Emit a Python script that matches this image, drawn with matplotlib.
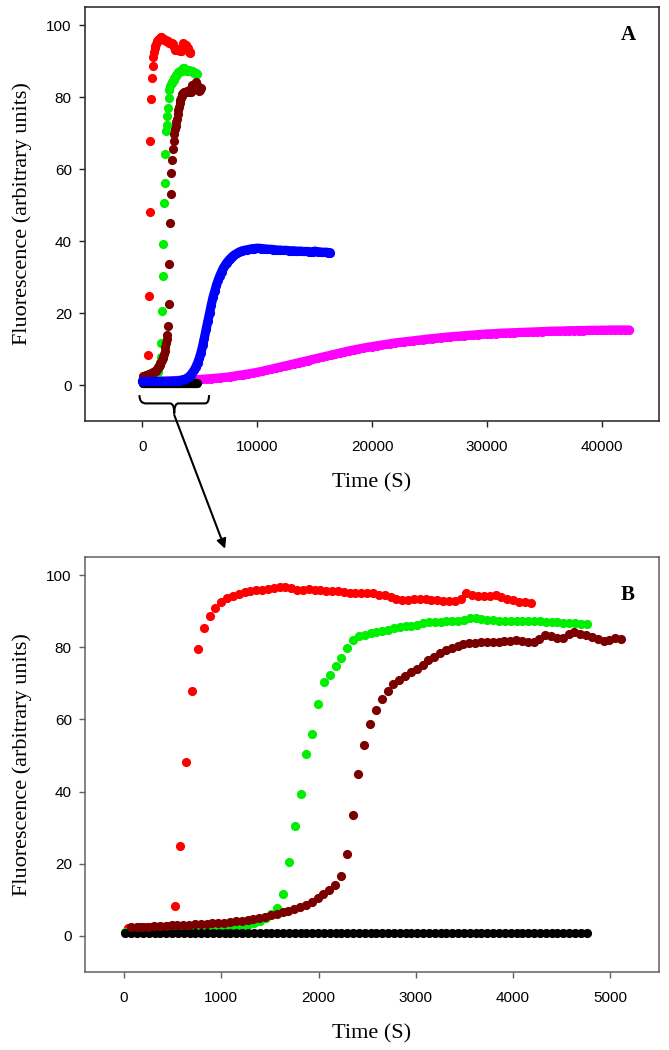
import numpy as np
import matplotlib
matplotlib.use('Agg')
import matplotlib.pyplot as plt
from matplotlib.path import Path
from matplotlib.patches import PathPatch, ConnectionPatch

# Fluorescence readings (arbitrary units), sampled at a fixed step per series
red_start, red_step = 40, 60
red_vals = [2.3, 2.3, 2.4, 2.4, 2.5, 2.5, 2.6, 2.7, 8.3, 24.8,
            48.2, 67.8, 79.5, 85.3, 88.7, 91.0, 92.6, 93.6, 94.2, 94.7,
            95.2, 95.5, 95.8, 96.0, 96.1, 96.3, 96.6, 96.8, 96.4, 96.0,
            95.9, 96.1, 95.9, 95.8, 95.6, 95.5, 95.5, 95.3, 95.1, 95.1,
            95.0, 94.9, 94.9, 94.6, 94.4, 94.0, 93.4, 93.2, 93.2, 93.3,
            93.4, 93.4, 93.2, 93.0, 92.8, 92.7, 92.9, 93.3, 94.9, 94.6,
            94.3, 94.2, 94.3, 94.4, 94.0, 93.5, 93.0, 92.6, 92.4, 92.3]

green_start, green_step = 15, 60
green_vals = [1.2, 1.2, 1.2, 1.3, 1.3, 1.3, 1.4, 1.4, 1.4, 1.5,
              1.5, 1.6, 1.6, 1.7, 1.8, 1.9, 2.0, 2.1, 2.3, 2.5,
              2.7, 3.1, 3.6, 4.2, 5.0, 6.0, 7.7, 11.6, 20.5, 30.4,
              39.2, 50.5, 56.0, 64.2, 70.5, 72.3, 74.7, 76.9, 79.7, 81.9,
              83.1, 83.5, 83.9, 84.2, 84.5, 84.8, 85.2, 85.6, 85.8, 86.0,
              86.3, 86.6, 86.9, 87.0, 87.1, 87.3, 87.3, 87.2, 87.5, 88.0,
              88.2, 87.8, 87.5, 87.5, 87.4, 87.3, 87.3, 87.4, 87.3, 87.2,
              87.3, 87.3, 87.1, 87.0, 86.9, 86.8, 86.8, 86.6, 86.5, 86.4]

maroon_start, maroon_step = 70, 60
maroon_vals = [2.4, 2.5, 2.6, 2.6, 2.7, 2.8, 2.8, 2.9, 3.0, 3.0,
               3.1, 3.2, 3.3, 3.4, 3.5, 3.6, 3.7, 3.8, 4.0, 4.2,
               4.4, 4.7, 5.0, 5.3, 5.7, 6.1, 6.5, 6.9, 7.4, 7.9,
               8.6, 9.4, 10.5, 11.6, 12.7, 14.0, 16.5, 22.6, 33.5, 45.0,
               53.0, 58.8, 62.6, 65.6, 67.9, 69.7, 71.0, 72.0, 73.0, 74.0,
               75.2, 76.4, 77.3, 78.3, 79.2, 79.8, 80.3, 80.8, 81.1, 81.3,
               81.4, 81.4, 81.5, 81.5, 81.6, 81.7, 81.9, 81.8, 81.5, 81.5,
               82.3, 83.3, 83.0, 82.5, 82.6, 83.6, 84.2, 83.8, 83.3, 82.9,
               82.3, 81.6, 82.0, 82.5, 82.4]

black_start, black_step = 15, 60
black_vals = [0.7, 0.7, 0.7, 0.7, 0.7, 0.7, 0.7, 0.7, 0.7, 0.7,
              0.7, 0.7, 0.7, 0.7, 0.7, 0.7, 0.7, 0.7, 0.7, 0.7,
              0.7, 0.7, 0.7, 0.7, 0.7, 0.7, 0.7, 0.7, 0.7, 0.7,
              0.7, 0.7, 0.7, 0.7, 0.7, 0.7, 0.7, 0.7, 0.7, 0.7,
              0.7, 0.7, 0.7, 0.7, 0.7, 0.7, 0.7, 0.7, 0.7, 0.7,
              0.7, 0.7, 0.7, 0.7, 0.7, 0.7, 0.7, 0.7, 0.7, 0.7,
              0.7, 0.7, 0.7, 0.7, 0.7, 0.7, 0.7, 0.7, 0.7, 0.7,
              0.7, 0.7, 0.7, 0.7, 0.7, 0.7, 0.7, 0.7, 0.7, 0.7]

blue_start, blue_step = 0, 150
blue_vals = [1.0, 1.0, 1.0, 1.0, 1.0, 1.0, 1.0, 1.0, 1.0, 1.0,
             1.0, 1.0, 1.0, 1.0, 1.0, 1.0, 1.0, 1.05, 1.1, 1.1,
             1.15, 1.2, 1.3, 1.4, 1.55, 1.7, 1.95, 2.3, 2.8, 3.4,
             4.1, 5.0, 6.1, 7.4, 9.0, 11.0, 13.2, 15.5, 17.8, 20.0,
             22.3, 24.4, 26.1, 27.7, 29.2, 30.4, 31.5, 32.5, 33.3, 34.0,
             34.6, 35.1, 35.6, 36.0, 36.3, 36.6, 36.9, 37.1, 37.3, 37.4,
             37.5, 37.6, 37.7, 37.8, 37.9, 37.9, 38.0, 38.0, 38.0, 37.9,
             37.9, 37.8, 37.8, 37.7, 37.7, 37.7, 37.6, 37.6, 37.5, 37.5,
             37.5, 37.4, 37.4, 37.4, 37.4, 37.3, 37.3, 37.3, 37.3, 37.2,
             37.2, 37.2, 37.2, 37.1, 37.1, 37.1, 37.1, 37.0, 37.0, 37.0,
             37.2, 37.1, 37.0, 37.0, 36.9, 36.9, 36.9, 36.9, 36.8, 36.8]

magenta_start, magenta_step = 0, 400
magenta_vals = [1.0, 1.0, 1.05, 1.1, 1.1, 1.15, 1.2, 1.25, 1.3, 1.35,
                1.4, 1.45, 1.5, 1.6, 1.7, 1.8, 1.9, 2.0, 2.15, 2.3,
                2.5, 2.7, 2.9, 3.1, 3.3, 3.55, 3.8, 4.1, 4.4, 4.7,
                5.0, 5.3, 5.6, 5.9, 6.2, 6.5, 6.8, 7.1, 7.4, 7.7,
                8.0, 8.3, 8.6, 8.9, 9.2, 9.5, 9.75, 10.0, 10.25, 10.5,
                10.7, 10.9, 11.1, 11.3, 11.5, 11.7, 11.85, 12.0, 12.15, 12.3,
                12.45, 12.6, 12.75, 12.9, 13.0, 13.15, 13.3, 13.4, 13.5, 13.6,
                13.7, 13.8, 13.9, 14.0, 14.1, 14.2, 14.25, 14.3, 14.4, 14.45,
                14.5, 14.55, 14.6, 14.65, 14.7, 14.75, 14.8, 14.85, 14.9, 14.95,
                15.0, 15.0, 15.05, 15.1, 15.1, 15.15, 15.15, 15.2, 15.2, 15.2,
                15.25, 15.25, 15.3, 15.3, 15.3, 15.3, 15.3]

xticks_a = [0, 10000, 20000, 30000, 40000]
xticks_b = [0, 1000, 2000, 3000, 4000, 5000]
yticks = [0, 20, 40, 60, 80, 100]

MS = 6.6


def times(start, step, vals):
    return start + step * np.arange(len(vals))


def dots(ax, start, step, vals, color, dense=False):
    t = times(start, step, vals)
    if dense:
        # long runs were logged so densely that the dots merge into a band
        ax.plot(t, vals, '-', lw=MS, color=color, solid_capstyle='round',
                solid_joinstyle='round')
    ax.plot(t, vals, 'o', ms=MS, color=color, mec='none')


def style(ax, spine_col, xticks, xlim):
    ax.set_xlim(*xlim)
    ax.set_ylim(-10, 105)
    ax.set_xticks(xticks)
    ax.set_yticks(yticks)
    for s in ax.spines.values():
        s.set_color(spine_col)
        s.set_linewidth(1.1)
    ax.tick_params(direction='out', length=4.5, width=1, color=spine_col,
                   top=False, right=False, labelsize=11)
    ax.tick_params(axis='x', pad=9)
    ax.tick_params(axis='y', pad=5)
    for lab in ax.get_xticklabels() + ax.get_yticklabels():
        lab.set_family('Liberation Sans')
    ax.set_xlabel('Time (S)', family='Liberation Serif', fontsize=16, labelpad=14)
    ax.set_ylabel('Fluorescence (arbitrary units)', family='Liberation Serif',
                  fontsize=16, labelpad=10)


fig = plt.figure(figsize=(6.69, 10.5), dpi=100)
axA = fig.add_axes([0.1271, 0.599, 0.858, 0.3943])
axB = fig.add_axes([0.1271, 0.0743, 0.858, 0.3952])

# Panel A: full time course
dots(axA, magenta_start, magenta_step, magenta_vals, '#ff00ff', dense=True)
dots(axA, black_start, black_step, black_vals, 'black')
dots(axA, red_start, red_step, red_vals, '#ff0000')
dots(axA, green_start, green_step, green_vals, '#00ee00')
dots(axA, maroon_start, maroon_step, maroon_vals, '#7a0000')
dots(axA, blue_start, blue_step, blue_vals, '#0000ff', dense=True)
style(axA, '#222222', xticks_a, (-5000, 45000))
axA.text(0.946, 0.932, 'A', transform=axA.transAxes, ha='center', va='center',
         family='Liberation Serif', fontweight='bold', fontsize=15)

# curly brace under the first 5000 s
verts = [(-260, -2.8), (-260, -5.1), (300, -5.1),
         (2400, -5.1), (2770, -5.1), (2770, -7.9),
         (2770, -5.1), (3140, -5.1),
         (5450, -5.1), (5800, -5.1), (5800, -2.8)]
codes = [Path.MOVETO, Path.CURVE3, Path.CURVE3,
         Path.LINETO, Path.CURVE3, Path.CURVE3,
         Path.CURVE3, Path.CURVE3,
         Path.LINETO, Path.CURVE3, Path.CURVE3]
axA.add_patch(PathPatch(Path(verts, codes), fill=False, lw=1.5, color='black',
                        clip_on=False))

# Panel B: zoom on the first 5000 s
dots(axB, red_start, red_step, red_vals, '#ff0000')
dots(axB, green_start, green_step, green_vals, '#00ee00')
dots(axB, black_start, black_step, black_vals, 'black')
dots(axB, maroon_start, maroon_step, maroon_vals, '#7a0000')
style(axB, '#606060', xticks_b, (-400, 5500))
axB.text(0.946, 0.908, 'B', transform=axB.transAxes, ha='center', va='center',
         family='Liberation Serif', fontweight='bold', fontsize=15)

arrow = ConnectionPatch(xyA=(2770, -8.3), coordsA=axA.transData,
                        xyB=(0.244, 1.02), coordsB=axB.transAxes,
                        arrowstyle='-|>', mutation_scale=14, lw=1.5, color='black')
fig.add_artist(arrow)

fig.savefig('out.png', dpi=100)
